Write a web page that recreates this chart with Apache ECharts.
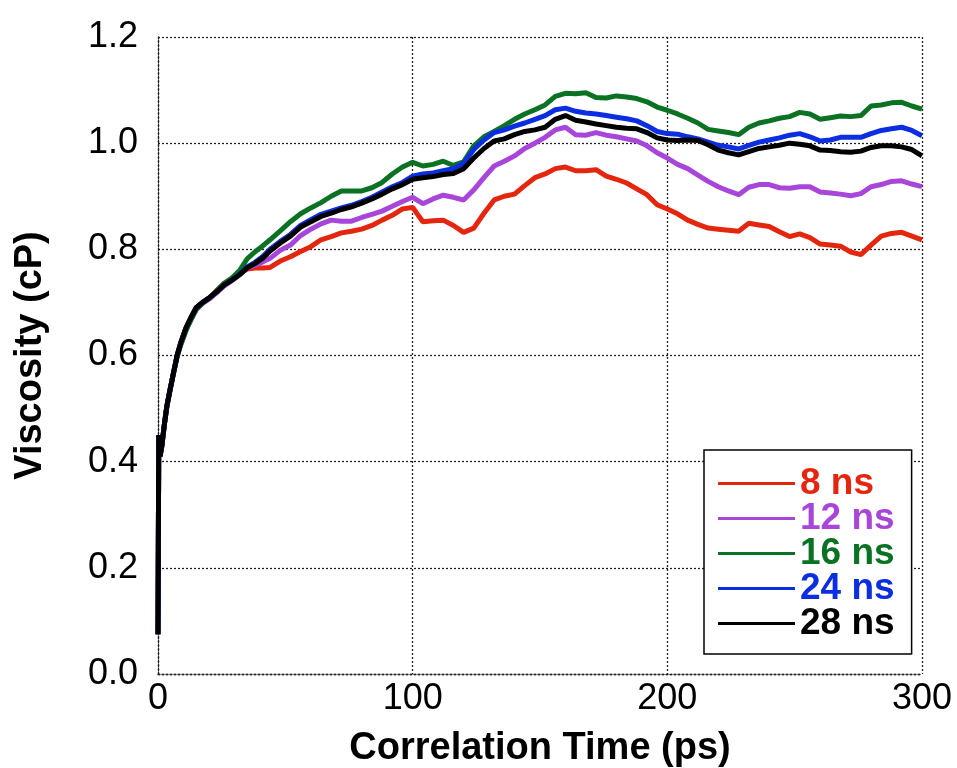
<!DOCTYPE html>
<html>
<head>
<meta charset="utf-8">
<script src="https://cdn.jsdelivr.net/npm/echarts@6/dist/echarts.min.js"></script>
<style>
html,body{margin:0;padding:0;background:#fff;}
#chart{width:957px;height:768px;}
</style>
</head>
<body>
<div id="chart"></div>
<script>
// Correlation time (ps)
const times = [0,0.3,0.8,1.5,2.5,3.5,4.5,6,7.5,9,11,13,15,17.5,20,23,26,29,32,35,
  38,41,44,
  48,52,56,60,64,68,72,76,80,84,
  88,92,96,100,104,108,112,116,120,124,
  128,132,136,140,144,148,152,156,160,164,
  168,172,176,180,184,188,192,196,200,204,
  208,212,216,220,224,228,232,236,240,244,
  248,252,256,260,264,268,272,276,280,284,
  288,292,296,300];

// Viscosity (cP) per run length
const ns8 = [0.075,0.45,0.41,0.43,0.47,0.505,0.53,0.565,0.60,0.625,0.652,0.672,0.69,0.70,0.708,0.722,0.736,0.745,0.755,0.763,
  0.765,0.765,0.766,
  0.778,0.786,0.796,0.805,0.818,0.824,0.831,0.834,0.838,0.845,
  0.855,0.864,0.876,0.879,0.852,0.854,0.855,0.845,0.832,0.840,
  0.868,0.893,0.900,0.904,0.920,0.935,0.942,0.952,0.955,0.948,
  0.948,0.950,0.938,0.932,0.925,0.914,0.903,0.884,0.876,0.867,
  0.855,0.847,0.840,0.838,0.836,0.834,0.849,0.846,0.843,0.833,
  0.824,0.829,0.822,0.810,0.808,0.806,0.795,0.790,0.808,0.825,
  0.830,0.832,0.825,0.818];

const ns12 = [0.075,0.45,0.41,0.43,0.47,0.505,0.53,0.565,0.598,0.622,0.648,0.668,0.686,0.698,0.706,0.718,0.731,0.741,0.752,0.765,
  0.770,0.776,0.783,
  0.798,0.808,0.826,0.838,0.848,0.855,0.853,0.853,0.860,0.866,
  0.872,0.881,0.890,0.898,0.886,0.895,0.902,0.898,0.893,0.912,
  0.935,0.957,0.966,0.976,0.990,1.000,1.011,1.025,1.030,1.016,
  1.015,1.020,1.015,1.012,1.008,1.004,0.995,0.982,0.972,0.960,
  0.952,0.940,0.928,0.918,0.910,0.903,0.917,0.922,0.922,0.916,
  0.915,0.918,0.918,0.908,0.906,0.904,0.901,0.905,0.918,0.922,
  0.928,0.929,0.923,0.918];

const ns16 = [0.075,0.45,0.41,0.43,0.47,0.505,0.53,0.565,0.597,0.621,0.647,0.668,0.687,0.699,0.708,0.722,0.736,0.746,0.760,0.782,
  0.795,0.806,0.818,
  0.835,0.852,0.867,0.878,0.888,0.900,0.910,0.910,0.910,0.916,
  0.926,0.942,0.955,0.964,0.957,0.960,0.966,0.958,0.965,0.995,
  1.012,1.022,1.033,1.045,1.055,1.063,1.072,1.088,1.094,1.093,
  1.095,1.086,1.085,1.089,1.087,1.084,1.078,1.068,1.062,1.055,
  1.047,1.038,1.026,1.023,1.020,1.016,1.030,1.038,1.042,1.047,
  1.050,1.058,1.055,1.045,1.048,1.051,1.050,1.052,1.070,1.072,
  1.076,1.077,1.070,1.064];

const ns24 = [0.075,0.45,0.41,0.43,0.47,0.505,0.53,0.565,0.60,0.625,0.652,0.672,0.69,0.70,0.708,0.72,0.733,0.742,0.753,0.767,
  0.775,0.786,0.800,
  0.815,0.828,0.845,0.856,0.866,0.872,0.878,0.883,0.890,0.898,
  0.908,0.918,0.926,0.938,0.942,0.944,0.948,0.952,0.962,0.988,
  1.006,1.020,1.025,1.032,1.038,1.045,1.052,1.063,1.066,1.060,
  1.057,1.055,1.052,1.049,1.046,1.042,1.033,1.022,1.018,1.017,
  1.012,1.008,1.002,0.996,0.993,0.989,0.996,1.002,1.006,1.010,
  1.015,1.018,1.012,1.004,1.006,1.011,1.011,1.011,1.018,1.024,
  1.027,1.030,1.024,1.014];

const ns28 = [0.075,0.45,0.41,0.43,0.47,0.505,0.53,0.565,0.60,0.625,0.652,0.672,0.69,0.70,0.708,0.72,0.733,0.742,0.752,0.765,
  0.773,0.783,0.797,
  0.812,0.825,0.842,0.852,0.862,0.868,0.875,0.880,0.887,0.895,
  0.904,0.914,0.922,0.932,0.935,0.937,0.941,0.943,0.952,0.972,
  0.990,1.004,1.008,1.016,1.022,1.025,1.030,1.045,1.052,1.043,
  1.040,1.036,1.033,1.030,1.028,1.027,1.020,1.010,1.006,1.005,
  1.006,1.005,0.997,0.987,0.982,0.978,0.984,0.990,0.993,0.996,
  1.000,0.998,0.995,0.987,0.986,0.984,0.983,0.985,0.992,0.995,
  0.995,0.993,0.988,0.976];

const seriesNames = ['8 ns','12 ns','16 ns','24 ns','28 ns'];
const seriesValues = [ns8, ns12, ns16, ns24, ns28];
const seriesColors = ['#e5260f','#a846d9','#0a7222','#0b2ee0','#000000'];
const xTicks = [0,100,200,300];
const yTicks = [0.0,0.2,0.4,0.6,0.8,1.0,1.2];

const FONT = "'Liberation Sans', Arial, Helvetica, sans-serif";
const dotted = {color:'#222', width:1.3, type:[2,2]};

const chart = echarts.init(document.getElementById('chart'), null, {renderer:'canvas'});

const option = {
  animation:false,
  backgroundColor:'#fff',
  textStyle:{fontFamily:FONT},
  grid:{left:158, top:37, right:35, bottom:94, containLabel:false, outerBoundsMode:'none'},
  xAxis:{
    type:'value', min:xTicks[0], max:xTicks[xTicks.length-1], interval:100,
    name:'Correlation Time (ps)', nameLocation:'middle', nameGap:56,
    nameTextStyle:{fontFamily:FONT, fontSize:38, fontWeight:'bold', color:'#000'},
    axisLine:{show:true, lineStyle:dotted},
    axisTick:{show:false},
    axisLabel:{fontFamily:FONT, fontSize:36, color:'#000', margin:7},
    splitLine:{show:true, lineStyle:dotted}
  },
  yAxis:{
    type:'value', min:yTicks[0], max:yTicks[yTicks.length-1], interval:0.2,
    name:'Viscosity (cP)', nameLocation:'middle', nameGap:108,
    nameTextStyle:{fontFamily:FONT, fontSize:38, fontWeight:'bold', color:'#000'},
    axisLine:{show:true, lineStyle:dotted},
    axisTick:{show:false},
    axisLabel:{fontFamily:FONT, fontSize:36, color:'#000', margin:20,
      formatter:v=>v.toFixed(1)},
    splitLine:{show:true, lineStyle:dotted}
  },
  legend:{
    orient:'vertical', left:704, top:450,
    backgroundColor:'#fff', borderColor:'#000', borderWidth:1.5,
    padding:[15,17,12,14],
    icon:'rect', itemWidth:77, itemHeight:3, itemGap:-2,
    textStyle:{fontFamily:FONT, fontSize:37, fontWeight:'bold', lineHeight:30},
    data: seriesNames.map((n,i)=>({name:n, textStyle:{color:seriesColors[i]}}))
  },
  series: seriesNames.map((n,i)=>({
    name:n, type:'line', showSymbol:false, symbol:'none', smooth:false,
    data: times.map((t,j)=>[t, seriesValues[i][j]]),
    lineStyle:{color:seriesColors[i], width:5},
    itemStyle:{color:seriesColors[i]},
    z: 2+i
  }))
};
chart.setOption(option);
</script>
</body>
</html>
